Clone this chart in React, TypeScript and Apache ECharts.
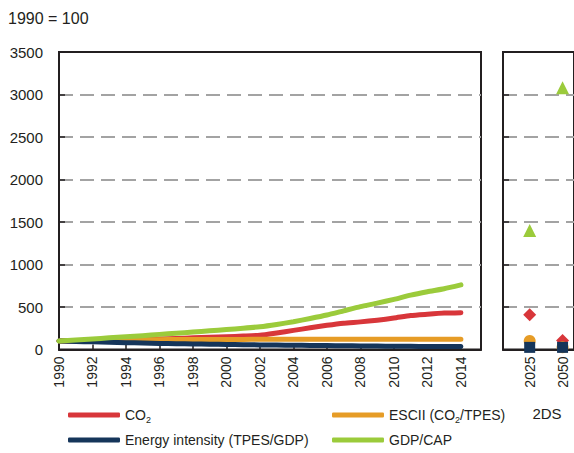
import React, { useEffect, useRef } from 'react';
import * as echarts from 'echarts';

const years = [1990, 1991, 1992, 1993, 1994, 1995, 1996, 1997, 1998, 1999, 2000, 2001, 2002, 2003, 2004, 2005, 2006, 2007, 2008, 2009, 2010, 2011, 2012, 2013, 2014];
const co2 = [100, 102, 105, 108, 112, 117, 123, 130, 137, 145, 150, 158, 168, 195, 225, 255, 285, 310, 325, 345, 370, 400, 415, 428, 433];
const escii = [100, 103, 106, 109, 112, 114, 116, 117, 118, 118, 119, 119, 120, 121, 121, 121, 121, 121, 120, 120, 121, 121, 120, 120, 120];
const energyIntensity = [100, 95, 90, 85, 80, 76, 72, 68, 65, 62, 59, 56, 54, 52, 50, 48, 46, 44, 42, 40, 38, 37, 36, 35, 34];
const gdpCap = [100, 112, 124, 137, 150, 163, 178, 190, 205, 220, 235, 250, 268, 295, 327, 365, 406, 455, 504, 545, 590, 640, 680, 715, 760];

const scenarioYears = [2025, 2050];
const co2_2DS = [410, 106];
const escii_2DS = [100, 25];
const energyIntensity_2DS = [25, 25];
const gdpCap_2DS = [1400, 3080];

const xTickYears = [1990, 1992, 1994, 1996, 1998, 2000, 2002, 2004, 2006, 2008, 2010, 2012, 2014];
const yTicks = [0, 500, 1000, 1500, 2000, 2500, 3000, 3500];

const NAME_CO2 = 'CO2';
const NAME_ESCII = 'ESCII (CO2/TPES)';
const NAME_EI = 'Energy intensity (TPES/GDP)';
const NAME_GDP = 'GDP/CAP';

const RED = '#d8363a';
const ORANGE = '#e69c26';
const NAVY = '#15355a';
const GREEN = '#9bcb3b';
const FONT = 'Liberation Sans, Arial, sans-serif';
const TXT = '#231f20';

export default function App() {
  const ref = useRef<HTMLDivElement>(null);
  useEffect(() => {
    document.body.style.margin = '0';
    const chart = echarts.init(ref.current!, undefined, { renderer: 'svg' });
    const plain = (v: number) => String(v);
    const gridLine = { show: true, showMinLine: false, showMaxLine: false, lineStyle: { color: '#a3a3a3', width: 2, type: [14, 7] } };
    const axisLine = { show: true, onZero: false, lineStyle: { color: TXT, width: 2 } };
    const line = (name: string, vals: number[], color: string) => ({
      type: 'line', name, xAxisIndex: 0, yAxisIndex: 0, showSymbol: false, symbol: 'none', smooth: 0.2,
      data: years.map((y, i) => [y, vals[i]]),
      lineStyle: { color, width: 5, cap: 'round', join: 'round' }, itemStyle: { color },
    });
    const pts = (name: string, vals: number[], color: string, symbol: string, size: number) => ({
      type: 'scatter', name, xAxisIndex: 1, yAxisIndex: 1, symbol, symbolSize: size, clip: false,
      data: scenarioYears.map((y, i) => [y, vals[i]]), itemStyle: { color, opacity: 1 },
    });
    const richSub = {
      n: { fontSize: 14, fontFamily: FONT, color: TXT, lineHeight: 18, verticalAlign: 'middle' },
      s: { fontSize: 9, fontFamily: FONT, color: TXT, lineHeight: 18, verticalAlign: 'bottom' },
    };
    const fmt = (name: string) => {
      if (name === NAME_CO2) return '{n|CO}{s|2}';
      if (name === NAME_ESCII) return '{n|ESCII (CO}{s|2}{n|/TPES)}';
      return '{n|' + name + '}';
    };
    const legendBase = {
      orient: 'vertical', itemWidth: 52, itemHeight: 5, itemGap: 9, icon: 'roundRect',
      formatter: fmt, textStyle: { rich: richSub, fontSize: 14, fontFamily: FONT, color: TXT },
    };
    chart.setOption({
      animation: false,
      textStyle: { fontFamily: FONT },
      grid: [
        { left: 59, top: 52, width: 422, height: 297.5, show: true, borderColor: TXT, borderWidth: 2, containLabel: false },
        { left: 503, top: 52, width: 73, height: 297.5, show: true, borderColor: TXT, borderWidth: 2, containLabel: false },
      ],
      xAxis: [
        {
          type: 'value', gridIndex: 0, min: 1990, max: 2015.2,
          axisLine,
          axisTick: { show: true, inside: true, length: 5, customValues: xTickYears, lineStyle: { color: TXT, width: 1.5 } },
          axisLabel: { customValues: xTickYears, formatter: plain, rotate: 90, margin: 7, fontSize: 14, color: TXT, fontFamily: FONT },
          splitLine: { show: false },
        },
        {
          type: 'value', gridIndex: 1, min: 2004.7, max: 2058.7,
          axisLine,
          axisTick: { show: false },
          axisLabel: { customValues: scenarioYears, formatter: plain, rotate: 90, margin: 7, fontSize: 14, color: TXT, fontFamily: FONT },
          splitLine: { show: false },
        },
      ],
      yAxis: [
        {
          type: 'value', gridIndex: 0, min: 0, max: 3500, interval: 500,
          axisLine,
          axisTick: { show: true, inside: true, length: 6, lineStyle: { color: TXT, width: 1.5 } },
          axisLabel: { margin: 16, fontSize: 15, color: TXT, fontFamily: FONT, customValues: yTicks, formatter: plain },
          splitLine: gridLine,
        },
        {
          type: 'value', gridIndex: 1, min: 0, max: 3500, interval: 500,
          axisLine,
          axisTick: { show: true, inside: true, length: 6, lineStyle: { color: TXT, width: 1.5 } },
          axisLabel: { show: false },
          splitLine: gridLine,
        },
      ],
      legend: [
        { ...legendBase, left: 63, top: 403, data: [NAME_CO2, NAME_EI] },
        { ...legendBase, left: 327, top: 403, data: [NAME_ESCII, NAME_GDP] },
      ],
      graphic: [
        { type: 'text', left: 8, top: 10, style: { text: '1990 = 100', fontSize: 16, fill: TXT, fontFamily: FONT } },
        { type: 'text', x: 547, y: 413, style: { text: '2DS', fontSize: 15, fill: TXT, fontFamily: FONT, align: 'center', verticalAlign: 'middle' } },
      ],
      series: [
        line(NAME_CO2, co2, RED),
        line(NAME_ESCII, escii, ORANGE),
        line(NAME_EI, energyIntensity, NAVY),
        line(NAME_GDP, gdpCap, GREEN),
        pts(NAME_GDP, gdpCap_2DS, GREEN, 'triangle', 13),
        pts(NAME_CO2, co2_2DS, RED, 'diamond', 13),
        pts(NAME_ESCII, escii_2DS, ORANGE, 'circle', 12),
        pts(NAME_EI, energyIntensity_2DS, NAVY, 'rect', 11),
      ],
    });
    return () => chart.dispose();
  }, []);
  return <div ref={ref} style={{ width: 574, height: 453 }} />;
}
